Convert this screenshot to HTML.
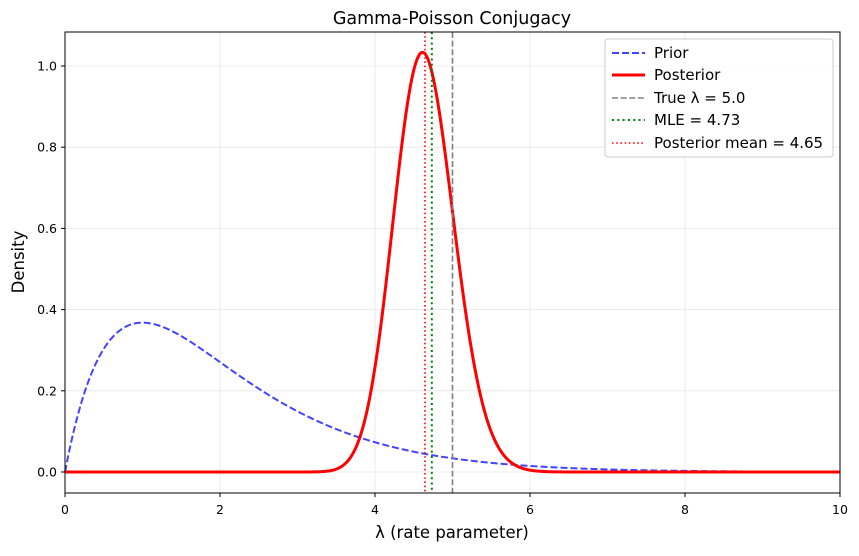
<!DOCTYPE html>
<html><head><meta charset="utf-8"><style>
body{margin:0;background:#fff;}
svg text{font-family:"DejaVu Sans","Liberation Sans",sans-serif;fill:#000;}
</style></head><body>
<svg id="s" width="859" height="551" xmlns="http://www.w3.org/2000/svg">
<rect width="859" height="551" fill="#fff"/>
<g id="grid" stroke="#e6e6e6" stroke-width="0.8"></g>
<g id="series"></g>
<rect x="65" y="32" width="775" height="461" fill="none" stroke="#000" stroke-width="1"/>
<g id="ticks" font-size="12.5"></g>
<text x="452" y="24" font-size="17.5" text-anchor="middle">Gamma-Poisson Conjugacy</text>
<text x="452" y="538" font-size="16.5" text-anchor="middle">λ (rate parameter)</text>
<text transform="translate(24,262) rotate(-90)" font-size="16.5" text-anchor="middle">Density</text>
<g>
<rect x="605" y="39" width="228" height="118" fill="#fff" fill-opacity="0.85" stroke="#ccc" rx="3"/>
<line x1="612" y1="53" x2="645" y2="53" stroke="#4444ff" stroke-width="2" stroke-dasharray="7,3"/>
<text x="654" y="58" font-size="15">Prior</text>
<line x1="612" y1="75" x2="645" y2="75" stroke="#ff0000" stroke-width="3"/>
<text x="654" y="80" font-size="15">Posterior</text>
<line x1="612" y1="98" x2="645" y2="98" stroke="#808080" stroke-width="1.6" stroke-dasharray="6,2.6"/>
<text x="654" y="103" font-size="15">True λ = 5.0</text>
<line x1="612" y1="120" x2="645" y2="120" stroke="#008000" stroke-width="2" stroke-dasharray="2,3.3"/>
<text x="654" y="125" font-size="15">MLE = 4.73</text>
<line x1="612" y1="143" x2="645" y2="143" stroke="#ff0000" stroke-width="1.6" stroke-dasharray="1.6,2.6"/>
<text x="654" y="148" font-size="15">Posterior mean = 4.65</text>
</g>
</svg>
<script>
var NS="http://www.w3.org/2000/svg";
function X(v){return 65+v*77.5;} function Y(v){return 472-v*406;}
function el(p,t,a,txt){var e=document.createElementNS(NS,t);for(var k in a)e.setAttribute(k,a[k]);if(txt!==undefined)e.textContent=txt;document.getElementById(p).appendChild(e);}
for(var i=0;i<=10;i+=2){el("grid","line",{x1:X(i),x2:X(i),y1:32,y2:493});
 el("ticks","line",{x1:X(i),x2:X(i),y1:493,y2:497,stroke:"#000"});
 el("ticks","text",{x:X(i),y:514,"text-anchor":"middle"},String(i));}
for(var j=0;j<=5;j++){var v=j*0.2;el("grid","line",{x1:65,x2:840,y1:Y(v),y2:Y(v)});
 el("ticks","line",{x1:61,x2:65,y1:Y(v),y2:Y(v),stroke:"#000"});
 el("ticks","text",{x:57,y:Y(v)+4.5,"text-anchor":"end"},v.toFixed(1));}
var N=1000,pr="",po="",xs=[],lf=[];
var a=144,b=31;
for(var k=0;k<=N;k++){var x=10*k/N;xs.push(x);lf.push(x>0?(a-1)*Math.log(x)-b*x:-1e9);}
var m=Math.max.apply(null,lf),f=lf.map(function(l){return Math.exp(l-m);}),s=0;
for(var k=1;k<=N;k++)s+=(f[k]+f[k-1])/2*(10/N);
for(var k=0;k<=N;k++){var x=xs[k];pr+=(k?"L":"M")+X(x).toFixed(2)+","+Y(x*Math.exp(-x)).toFixed(2);
 po+=(k?"L":"M")+X(x).toFixed(2)+","+Y(f[k]/s).toFixed(2);}
el("series","path",{d:pr,fill:"none",stroke:"#4444ff","stroke-width":2,"stroke-dasharray":"7,3"});
el("series","path",{d:po,fill:"none",stroke:"#ff0000","stroke-width":3});
el("series","line",{x1:X(5),x2:X(5),y1:32,y2:493,stroke:"#808080","stroke-width":1.6,"stroke-dasharray":"6,2.6"});
el("series","line",{x1:X(4.733),x2:X(4.733),y1:32,y2:493,stroke:"#008000","stroke-width":2,"stroke-dasharray":"2,3.3"});
el("series","line",{x1:X(4.645),x2:X(4.645),y1:32,y2:493,stroke:"#ff0000","stroke-width":1.6,"stroke-dasharray":"1.6,2.6"});
</script>
</body></html>
